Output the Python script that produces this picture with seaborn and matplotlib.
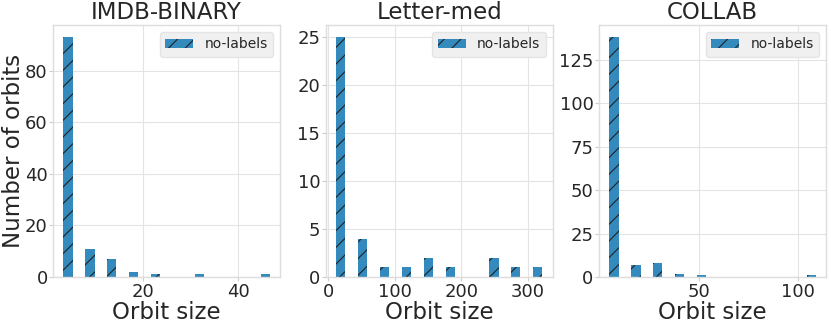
import numpy as np
import pandas as pd
import matplotlib
matplotlib.use("Agg")
import matplotlib.pyplot as plt
import seaborn as sns

# ---- data ----
titles = ["IMDB-BINARY", "Letter-med", "COLLAB"]
imdb_counts = [93, 11, 7, 2, 1, 0, 1, 0, 0, 1]
imdb_range = (2, 48)
letter_counts = [25, 4, 1, 1, 2, 1, 0, 2, 1, 1]
letter_range = (2, 331)
collab_counts = [138, 7, 8, 2, 1, 0, 0, 0, 0, 1]
collab_range = (2, 112)
series_label = "no-labels"
xlabel = "Orbit size"
ylabel = "Number of orbits"

sns.set_style("whitegrid")
plt.rcParams["font.family"] = ["DejaVu Sans"]
plt.rcParams["hatch.linewidth"] = 0.8

fig = plt.figure(figsize=(8.31, 3.24), dpi=100)
lefts = [0.064, 0.392, 0.721]
width = 0.273
bottom, top = 0.145, 0.923

datasets = [(imdb_counts, imdb_range), (letter_counts, letter_range), (collab_counts, collab_range)]
bar_color = "#348ABD"

for i, (title, (counts, rng)) in enumerate(zip(titles, datasets)):
    ax = fig.add_axes([lefts[i], bottom, width, top - bottom])
    edges = np.linspace(rng[0], rng[1], len(counts) + 1)
    centers = (edges[:-1] + edges[1:]) / 2
    df = pd.DataFrame({"size": centers, "count": counts})
    sns.histplot(data=df, x="size", weights="count", bins=len(counts), binrange=rng,
                 shrink=0.42, color=bar_color, alpha=1.0, edgecolor="#222222", linewidth=0,
                 hatch="//", ax=ax, label=series_label)
    ax.margins(x=0.05, y=0.05)
    ax.autoscale_view()
    ax.set_title(title, fontsize=16.5, pad=4)
    ax.set_xlabel(xlabel, fontsize=16.5, labelpad=0)
    if i == 0:
        ax.set_ylabel(ylabel, fontsize=16.5, labelpad=0)
    else:
        ax.set_ylabel("")
    ax.tick_params(axis="both", labelsize=13, length=3, width=0.8, color="#cccccc", pad=1,
                   left=True, bottom=True)
    for s in ax.spines.values():
        s.set_color("#dddddd")
        s.set_linewidth(1.0)
    ax.grid(True, color="#e3e3e3", linewidth=0.8)
    ax.set_axisbelow(True)
    leg = ax.legend(loc="upper right", fontsize=10, frameon=True, fancybox=True,
                    facecolor="#f0f0f0", edgecolor="#e4e4e4", framealpha=1.0,
                    handlelength=2.0, borderpad=0.4)

fig.savefig("out.png", dpi=100)
